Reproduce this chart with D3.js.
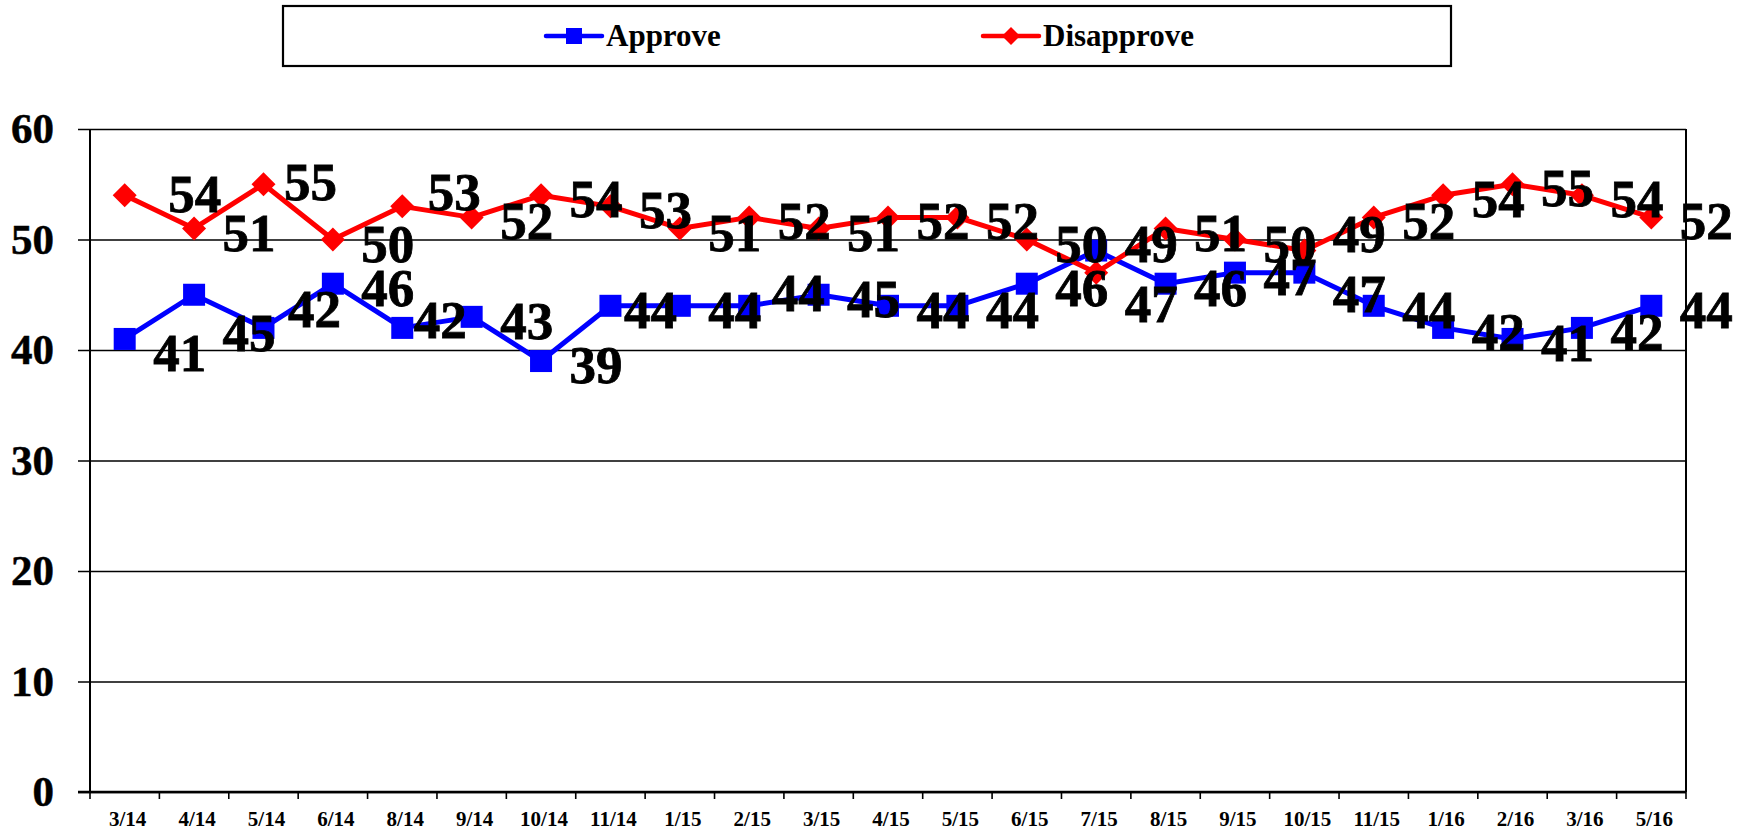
<!DOCTYPE html>
<html>
<head>
<meta charset="utf-8">
<script src="https://cdn.jsdelivr.net/npm/d3@7"></script>
<style>
  html, body { margin: 0; padding: 0; background: #fff; }
  svg { display: block; }
  text { font-family: "Liberation Serif", "Times New Roman", serif; font-weight: bold; }
</style>
</head>
<body>
<svg id="chart" width="1754" height="831"></svg>
<script>
// ---- data ----
const categories = ["3/14","4/14","5/14","6/14","8/14","9/14","10/14","11/14","1/15","2/15","3/15","4/15","5/15","6/15","7/15","8/15","9/15","10/15","11/15","1/16","2/16","3/16","5/16"];
const approve    = [41,45,42,46,42,43,39,44,44,44,45,44,44,46,49,46,47,47,44,42,41,42,44];
const disapprove = [54,51,55,50,53,52,54,53,51,52,51,52,52,50,47,51,50,49,52,54,55,54,52];
const yTicks = [0,10,20,30,40,50,60];
const seriesNames = ["Approve","Disapprove"];
const seriesColors = ["#0000FF","#FF0000"];
// manual label nudges (relative offsets of hand-placed data labels)
const labelNudges = [
  {0:[0,10],1:[0,34],2:[-4,-23],4:[-17,-12],7:[-15,0],9:[-6,-17],14:[0,-11],17:[0,17]},
  {0:[15,-5],2:[-8,-6],4:[-3,-18],14:[0,27],17:[0,-21]}
];

// ---- layout ----
const svg = d3.select("#chart");
svg.append("rect").attr("width",1754).attr("height",831).attr("fill","#fff");
const L = 90, R = 1686, T = 129, B = 792;

const x = d3.scaleBand().domain(categories).range([L, R]).padding(0);
const y = d3.scaleLinear().domain([0, 60]).range([B, T]);
const cx = c => x(c) + x.bandwidth() / 2;

// gridlines + y labels
const yAxis = d3.axisLeft(y).tickValues(yTicks).tickSize(-(R - L + 12)).tickPadding(24);
const gy = svg.append("g").attr("transform", `translate(${L - 12},0)`).call(yAxis);
gy.select(".domain").remove();
gy.selectAll(".tick line").attr("stroke", "#000").attr("stroke-width", 1.6);
gy.selectAll(".tick text").attr("font-size", 43).attr("fill", "#000")
  .attr("font-family", "'Liberation Serif', serif").attr("font-weight", "bold")
  .attr("stroke", "#000").attr("stroke-width", 0.5);

// plot frame
svg.append("line").attr("x1", L).attr("x2", L).attr("y1", T).attr("y2", B).attr("stroke", "#000").attr("stroke-width", 2);
svg.append("line").attr("x1", R).attr("x2", R).attr("y1", T).attr("y2", B).attr("stroke", "#000").attr("stroke-width", 2);
svg.append("line").attr("x1", L - 12).attr("x2", R).attr("y1", B).attr("y2", B).attr("stroke", "#000").attr("stroke-width", 2.6);

// x axis labels
const xAxis = d3.axisBottom(x).tickSize(0).tickPadding(19);
const gx = svg.append("g").attr("transform", `translate(3,${B})`).call(xAxis);
gx.select(".domain").remove();
gx.selectAll(".tick text").attr("font-size", 21).attr("fill", "#000")
  .attr("font-family", "'Liberation Serif', serif").attr("font-weight", "bold");

// boundary ticks
const bounds = categories.map(c => x(c)).concat([R]);
svg.append("g").selectAll("line").data(bounds).join("line")
  .attr("x1", d => d).attr("x2", d => d).attr("y1", B).attr("y2", B + 7)
  .attr("stroke", "#000").attr("stroke-width", 1.6);

// series
const seriesData = [approve, disapprove];
const line = d3.line().x((d, i) => cx(categories[i])).y(d => y(d));

seriesData.forEach((vals, s) => {
  const g = svg.append("g");
  g.append("path").datum(vals).attr("d", line).attr("fill", "none")
    .attr("stroke", seriesColors[s]).attr("stroke-width", 5).attr("stroke-linejoin", "round");
  if (s === 0) {
    g.selectAll("rect").data(vals).join("rect")
      .attr("x", (d, i) => cx(categories[i]) - 11).attr("y", d => y(d) - 11)
      .attr("width", 22).attr("height", 22).attr("fill", seriesColors[s]);
  } else {
    g.selectAll("path.m").data(vals).join("path").attr("class", "m")
      .attr("d", "M0,-12L12,0L0,12L-12,0Z")
      .attr("transform", (d, i) => `translate(${cx(categories[i])},${y(d)})`)
      .attr("fill", seriesColors[s]);
  }
});

// data labels
seriesData.forEach((vals, s) => {
  svg.append("g").selectAll("text").data(vals).join("text")
    .attr("x", (d, i) => cx(categories[i]) + 55 + ((labelNudges[s][i] || [0, 0])[0]))
    .attr("y", (d, i) => y(d) + 3 + ((labelNudges[s][i] || [0, 0])[1]))
    .attr("dy", "0.36em")
    .attr("text-anchor", "middle")
    .attr("font-size", 53).attr("fill", "#000")
    .attr("stroke", "#000").attr("stroke-width", 0.8)
    .text(d => d);
});

// legend
const lg = svg.append("g");
lg.append("rect").attr("x", 283).attr("y", 6).attr("width", 1168).attr("height", 60)
  .attr("fill", "#fff").attr("stroke", "#000").attr("stroke-width", 2.2);
const legendX = [546, 983];
seriesNames.forEach((name, s) => {
  const x0 = legendX[s];
  lg.append("line").attr("x1", x0).attr("x2", x0 + 56).attr("y1", 36).attr("y2", 36)
    .attr("stroke", seriesColors[s]).attr("stroke-width", 4.5).attr("stroke-linecap", "round");
  if (s === 0) {
    lg.append("rect").attr("x", x0 + 28 - 8).attr("y", 36 - 8).attr("width", 16).attr("height", 16).attr("fill", seriesColors[s]);
  } else {
    lg.append("path").attr("d", "M0,-9L9,0L0,9L-9,0Z").attr("transform", `translate(${x0 + 28},36)`).attr("fill", seriesColors[s]);
  }
  lg.append("text").attr("x", x0 + 60).attr("y", 46).attr("font-size", 31).attr("fill", "#000").text(name);
});
</script>
</body>
</html>
